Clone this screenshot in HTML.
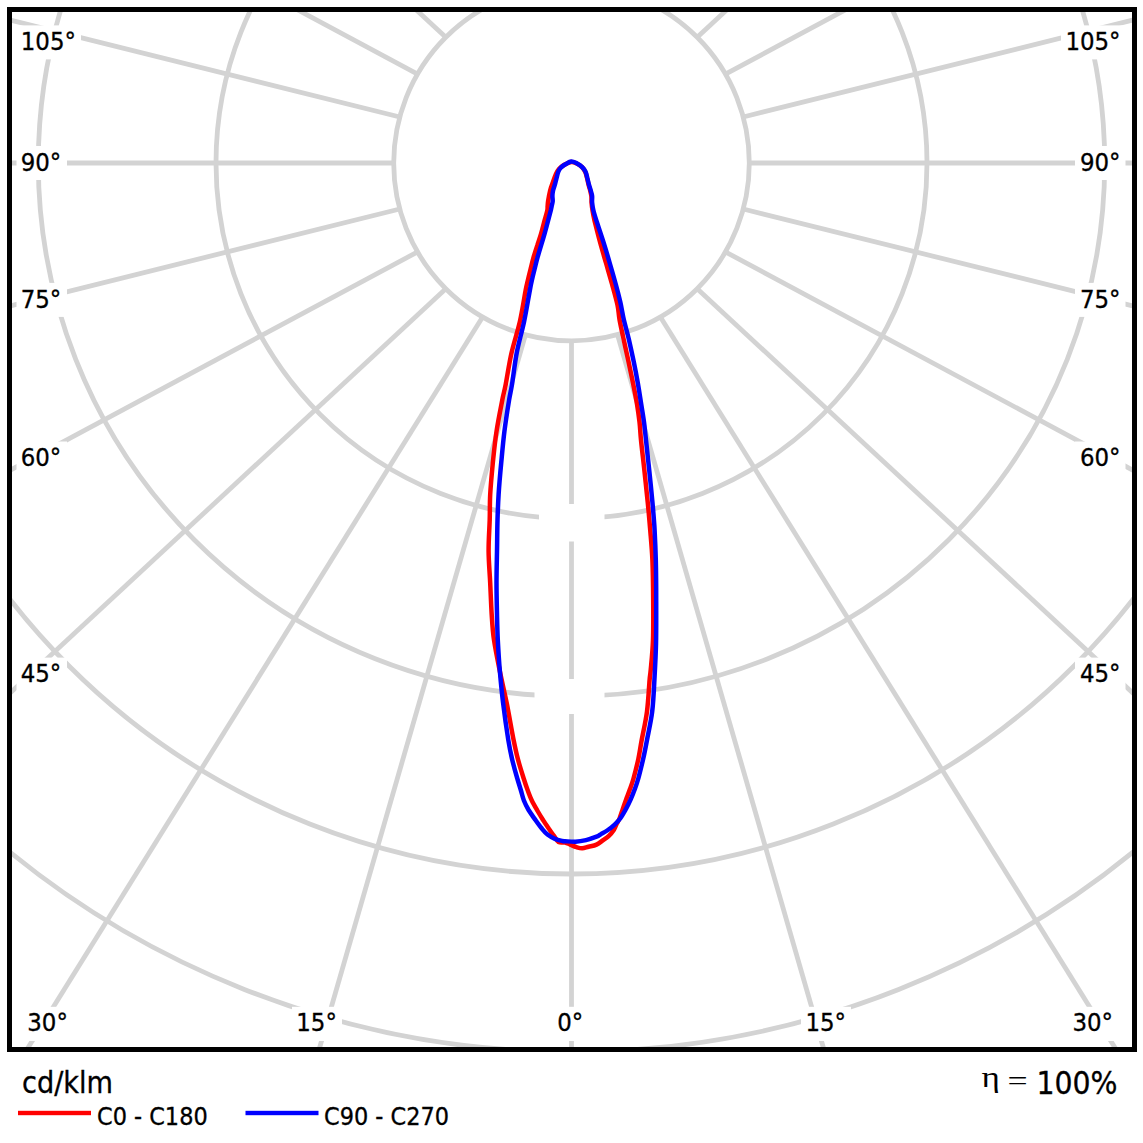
<!DOCTYPE html>
<html><head><meta charset="utf-8"><style>
html,body{margin:0;padding:0;background:#fff;width:1143px;height:1143px;overflow:hidden}
svg{display:block}
.t{font-family:"DejaVu Sans Condensed","DejaVu Sans","Liberation Sans",sans-serif;fill:#000;stroke:#000;stroke-width:0.3px}
</style></head><body>
<svg width="1143" height="1143" viewBox="0 0 1143 1143">
<defs><clipPath id="fr"><rect x="12" y="12" width="1120" height="1035"/></clipPath></defs>
<rect width="1143" height="1143" fill="#fff"/>
<g clip-path="url(#fr)">
<g fill="none" stroke="#d3d3d3" stroke-width="4.8"><circle cx="571.5" cy="163" r="177.8"/><circle cx="571.5" cy="163" r="355.5"/><circle cx="571.5" cy="163" r="533.2"/><circle cx="571.5" cy="163" r="711"/><circle cx="571.5" cy="163" r="888.8"/><line x1="571.5" y1="340.8" x2="571.5" y2="1740.8"/><line x1="617.5" y1="334.7" x2="1005.9" y2="1679.7"/><line x1="525.5" y1="334.7" x2="137.1" y2="1679.7"/><line x1="660.4" y1="316.9" x2="1399.9" y2="1505.7"/><line x1="482.6" y1="316.9" x2="-256.9" y2="1505.7"/><line x1="697.2" y1="288.7" x2="1723.4" y2="1241"/><line x1="445.8" y1="288.7" x2="-580.4" y2="1241"/><line x1="725.4" y1="251.9" x2="1959.5" y2="913"/><line x1="417.6" y1="251.9" x2="-816.5" y2="913"/><line x1="743.2" y1="209" x2="2101.8" y2="546.8"/><line x1="399.8" y1="209" x2="-958.8" y2="546.8"/><line x1="749.2" y1="163" x2="2149.2" y2="163"/><line x1="393.8" y1="163" x2="-1006.2" y2="163"/><line x1="743.2" y1="117" x2="2101.8" y2="-220.8"/><line x1="399.8" y1="117" x2="-958.8" y2="-220.8"/><line x1="725.4" y1="74.1" x2="1959.5" y2="-587"/><line x1="417.6" y1="74.1" x2="-816.5" y2="-587"/><line x1="697.2" y1="37.3" x2="1723.4" y2="-915"/><line x1="445.8" y1="37.3" x2="-580.4" y2="-915"/><line x1="660.4" y1="9.1" x2="1399.9" y2="-1179.7"/><line x1="482.6" y1="9.1" x2="-256.9" y2="-1179.7"/><line x1="617.5" y1="-8.7" x2="1005.9" y2="-1353.7"/><line x1="525.5" y1="-8.7" x2="137.1" y2="-1353.7"/><line x1="571.5" y1="-14.8" x2="571.5" y2="-1414.8"/></g>
<g fill="#fff"><rect x="16.5" y="25.4" width="64.5" height="34"/><rect x="1061" y="25.4" width="64.5" height="34"/><rect x="16.5" y="146" width="50.5" height="34"/><rect x="1075" y="146" width="50.5" height="34"/><rect x="16.5" y="282.9" width="50.5" height="34"/><rect x="1075" y="282.9" width="50.5" height="34"/><rect x="16.5" y="441.5" width="50.5" height="34"/><rect x="1075" y="441.5" width="50.5" height="34"/><rect x="16.5" y="657.6" width="50.5" height="34"/><rect x="1075" y="657.6" width="50.5" height="34"/><rect x="23" y="1006.8" width="52" height="34.2"/><rect x="292" y="1006.8" width="50" height="34.2"/><rect x="544" y="1006.8" width="48" height="34.2"/><rect x="801" y="1006.8" width="50" height="34.2"/><rect x="1068" y="1006.8" width="52" height="34.2"/></g>
<rect x="539" y="504" width="65.5" height="37.5" fill="#fff"/>
<rect x="534.5" y="679" width="70" height="35" fill="#fff"/>
<g fill="none" stroke-width="4.5" stroke-linejoin="round">
<path stroke="#ff0000" d="M571.3,161.9 C573.5,161.7 575.5,162.9 577.3,163.8 C579.1,164.7 581,166 582.3,167.4 C583.6,168.8 584.5,170.3 585.3,172 C586.1,173.7 586.5,175.7 587,177.8 C587.5,179.9 588,182.3 588.5,184.5 C589,186.7 589.8,189 590.3,191 C590.8,193 591.2,194.5 591.4,196.5 C591.6,198.5 591.4,200.7 591.6,203 C591.8,205.3 592,207.5 592.5,210.5 C593,213.5 593.4,215.8 594.6,221 C595.9,226.2 598.1,235 600,242 C601.9,249 604,256 606,263 C608,270 610.1,277 612,284 C613.9,291 616.2,299 617.5,305 C618.8,311 618.5,314 619.6,320 C620.7,326 622.5,334 624,341 C625.5,348 627.1,355 628.6,362 C630.1,369 631.6,376 633,383 C634.4,390 635.9,397.5 637,404 C638.1,410.5 638.8,416 639.5,422 C640.2,428 640.2,431.8 641,440 C641.8,448.2 643.4,461 644.5,471.5 C645.6,482 646.8,493.1 647.8,503 C648.8,512.9 649.5,521.5 650.3,531 C651.1,540.5 651.9,548.5 652.4,560 C652.9,571.5 653.1,586.7 653.2,600 C653.3,613.3 653.4,628.3 653,640 C652.6,651.7 651.3,663.3 650.7,670 C650.1,676.7 650.2,673.1 649.6,680 C649,686.9 648.3,701.5 647,711.5 C645.7,721.5 643.2,732 641.7,740 C640.2,748 639.7,752.8 638.3,759.2 C636.9,765.6 634.9,773.4 633.5,778.5 C632.1,783.6 631,786.1 629.8,789.6 C628.6,793.1 627.4,796 626.2,799.2 C625,802.4 623.9,805.7 622.8,808.9 C621.7,812.1 620.5,816.1 619.5,818.5 C618.5,820.9 617.8,821.6 616.8,823.5 C615.8,825.4 615.2,827.8 613.8,829.9 C612.4,832 610.4,834.5 608.6,836.2 C606.8,838 604.8,839 602.8,840.4 C600.8,841.8 598.9,843.5 596.5,844.6 C594.1,845.7 591,846.1 588.6,846.7 C586.2,847.3 584.3,848.2 582.3,848.3 C580.3,848.4 578.5,847.8 576.5,847.2 C574.5,846.6 572.1,845.4 570.2,844.6 C568.3,843.8 566.9,842.9 565,842.5 C563.1,842.1 560.5,843.1 558.6,842 C556.7,840.9 555.5,838 553.8,835.7 C552.1,833.4 550.4,830.8 548.6,828.3 C546.9,825.8 545.1,823.3 543.3,820.4 C541.5,817.5 539.5,814.3 537.6,811 C535.7,807.7 533.5,804 531.8,800.5 C530.1,797 529,793.7 527.6,790 C526.2,786.3 525.3,783.6 523.7,778.5 C522.1,773.4 519.6,765.6 517.9,759.2 C516.2,752.8 515.5,749.4 513.6,740 C511.7,730.6 509,714.4 506.7,703 C504.4,691.6 502,682 499.9,671.5 C497.8,661 495.4,649.5 494,640 C492.6,630.5 492.3,624 491.7,614.5 C491.1,605 490.7,593.5 490.2,583 C489.7,572.5 488.7,562 488.6,551.5 C488.5,541 489.4,529.5 489.7,520 C490,510.5 489.7,504 490.2,494.5 C490.7,485 491.8,473.5 492.8,463 C493.9,452.5 494.9,442 496.5,431.5 C498.1,421 500.8,407.8 502.3,400 C503.8,392.2 504.2,392.3 505.7,384.5 C507.2,376.7 509.1,363.5 511.5,353 C513.9,342.5 517.5,332 519.9,321.5 C522.3,311 524.4,296.8 525.7,290 C527,283.2 526.9,284.4 527.7,280.9 C528.5,277.4 529.6,272.9 530.6,269 C531.6,265.1 532.5,261.1 533.6,257.2 C534.7,253.3 536,249.3 537.3,245.4 C538.5,241.5 540,237.5 541.1,233.6 C542.2,229.7 543.2,225.6 544.2,221.8 C545.2,218 546.6,213.6 547.2,211 C547.8,208.4 547.5,208.1 547.6,206.5 C547.8,204.9 547.7,203.8 548.1,201.2 C548.5,198.6 549.3,193.9 550.1,190.7 C550.9,187.5 552,184.8 553,182 C554,179.2 555,176.2 556,174 C557,171.8 557.7,170.5 559,169 C560.3,167.5 562,166.2 564,165 C566,163.8 569.1,162.1 571.3,161.9Z"/>
<path stroke="#0000ff" d="M571.2,161.4 C573.1,161.3 575.2,162.5 577,163.4 C578.8,164.3 580.8,165.7 582.2,167.1 C583.6,168.5 584.7,169.9 585.5,171.7 C586.3,173.4 586.7,175.5 587.2,177.6 C587.8,179.7 588.2,181.9 588.8,184.1 C589.4,186.3 590.2,188.7 590.8,190.7 C591.3,192.7 591.9,193.9 592.1,195.9 C592.3,197.9 591.9,200.2 592.1,202.5 C592.3,204.8 592.6,206.9 593.3,210 C594,213.1 594.8,215.7 596.5,221 C598.2,226.3 601.2,235 603.4,242 C605.6,249 607.7,256 609.7,263 C611.8,270 613.9,277.5 615.7,284 C617.5,290.5 618.9,296 620.3,302 C621.7,308 622.4,313.7 623.9,320 C625.4,326.3 627.4,333 629,340 C630.6,347 632.3,354.8 633.8,362 C635.3,369.2 636.6,376 637.8,383 C639,390 640.2,397.5 641.2,404 C642.2,410.5 643.2,416 644,422 C644.8,428 645.1,432 646,440 C646.9,448 648.1,459.5 649.2,470 C650.3,480.5 651.6,493 652.5,503 C653.4,513 654.1,520.5 654.6,530 C655.1,539.5 655.5,548 655.8,560 C656.1,572 656.2,588 656.2,602 C656.2,616 656.3,631 656,644 C655.7,657 655,668.8 654.4,680 C653.8,691.2 653.4,701.5 652.2,711.5 C651,721.5 648.5,732 647,740 C645.5,748 644.6,752.8 643.1,759.2 C641.6,765.6 639.7,773.4 638.3,778.5 C636.9,783.6 635.9,786.1 634.6,789.6 C633.4,793.1 632.2,796 630.8,799.2 C629.4,802.4 627.8,805.7 626,808.9 C624.2,812.1 622.1,815.9 620.2,818.5 C618.3,821.1 616.6,822.8 614.4,824.8 C612.2,826.8 609.4,829 607.2,830.5 C605,832 603.2,832.9 601.4,833.9 C599.6,834.9 599.1,835.7 596.5,836.7 C593.9,837.7 589.5,839.3 586,840.1 C582.5,840.9 579,841.5 575.5,841.7 C572,841.9 567.2,841.3 565,841.2 C562.8,841.1 563.9,841.3 562.2,840.9 C560.5,840.5 557.4,839.8 554.9,838.8 C552.4,837.8 549.8,836.4 547.5,834.6 C545.2,832.8 543.3,830.3 541.2,827.8 C539.1,825.3 537.1,822.4 535,819.4 C532.9,816.4 530.5,813.1 528.6,810 C526.8,806.9 525.2,803.8 523.9,800.5 C522.6,797.2 521.9,793.7 520.8,790 C519.7,786.3 518.8,783.6 517.3,778.5 C515.8,773.4 513.6,765.6 512.1,759.2 C510.6,752.8 509.8,749.4 508.3,740 C506.8,730.6 504.5,714.4 503.1,703 C501.7,691.6 500.8,682 499.9,671.5 C499,661 498.3,649.5 497.8,640 C497.3,630.5 497.2,624 497,614.5 C496.8,605 496.5,593.5 496.5,583 C496.5,572.5 496.8,562 497,551.5 C497.2,541 497.2,529.5 497.5,520 C497.8,510.5 498,504 498.6,494.5 C499.2,485 500.2,473.5 501.2,463 C502.2,452.5 503.1,442 504.4,431.5 C505.7,421 507.8,407.8 509.1,400 C510.4,392.2 510.7,392.3 512,384.5 C513.3,376.7 514.7,363.5 516.7,353 C518.7,342.5 521.9,332 524.1,321.5 C526.3,311 528.6,296.8 529.9,290 C531.2,283.2 530.9,284.4 531.7,280.9 C532.5,277.4 533.6,272.9 534.6,269 C535.6,265.1 536.5,261.1 537.6,257.2 C538.7,253.3 539.9,249.3 541.1,245.4 C542.3,241.5 543.5,237.5 544.6,233.6 C545.7,229.7 546.8,225.7 547.8,221.8 C548.8,217.9 550.2,212.6 550.9,210 C551.5,207.4 551.4,207.5 551.7,206 C552,204.5 552.6,202.9 552.7,201.2 C552.8,199.5 552.4,197.7 552.4,195.9 C552.4,194.2 552.6,192.7 553,190.7 C553.4,188.7 554.4,186.3 555,184.1 C555.6,181.9 556.2,179.7 556.7,177.6 C557.2,175.5 557.5,173.4 558.3,171.7 C559,170 560,168.6 561.2,167.3 C562.5,166 564.1,165.1 565.8,164.1 C567.5,163.1 569.3,161.5 571.2,161.4Z"/>
</g>
</g>
<rect x="9.5" y="9.5" width="1125" height="1040" fill="none" stroke="#000" stroke-width="5"/>
<g class="t" font-size="24"><text transform="translate(20.8,50.1) scale(1.06,1)" text-anchor="start">105°</text><text transform="translate(1120.5,50.1) scale(1.06,1)" text-anchor="end">105°</text><text transform="translate(20.7,170.7) scale(1.06,1)" text-anchor="start">90°</text><text transform="translate(1120.5,170.7) scale(1.06,1)" text-anchor="end">90°</text><text transform="translate(20.7,307.6) scale(1.06,1)" text-anchor="start">75°</text><text transform="translate(1120.5,307.6) scale(1.06,1)" text-anchor="end">75°</text><text transform="translate(20.7,466.2) scale(1.06,1)" text-anchor="start">60°</text><text transform="translate(1120.5,466.2) scale(1.06,1)" text-anchor="end">60°</text><text transform="translate(20.7,682.3) scale(1.06,1)" text-anchor="start">45°</text><text transform="translate(1120.5,682.3) scale(1.06,1)" text-anchor="end">45°</text><text transform="translate(27.3,1031.2) scale(1.06,1)" text-anchor="start">30°</text><text transform="translate(296.3,1031.2) scale(1.06,1)" text-anchor="start">15°</text><text transform="translate(557.3,1031.2) scale(1.06,1)" text-anchor="start">0°</text><text transform="translate(805.4,1031.2) scale(1.06,1)" text-anchor="start">15°</text><text transform="translate(1072.5,1031.2) scale(1.06,1)" text-anchor="start">30°</text></g>
<g class="t">
<text x="22" y="1093.3" font-size="30.2">cd/klm</text>
<text x="1117.5" y="1093.6" font-size="31.5" text-anchor="end">100%</text>
<text transform="translate(981.5,1086.8) scale(1.17,1)" font-size="30" style="font-family:'Liberation Serif',serif;stroke:none">η</text>
<text transform="translate(1007.5,1089.6) scale(1.3,1)" font-size="27.5" style="font-family:'Liberation Serif',serif;stroke:none">=</text>
<text transform="translate(97,1124.6) scale(1.03,1)" font-size="24.2">C0 - C180</text>
<text transform="translate(324.1,1124.6) scale(1.03,1)" font-size="24.2">C90 - C270</text>
</g>
<rect x="18" y="1110.8" width="73" height="4.4" fill="#ff0000"/>
<rect x="245.5" y="1110.8" width="73" height="4.4" fill="#0000ff"/>
</svg>
</body></html>
